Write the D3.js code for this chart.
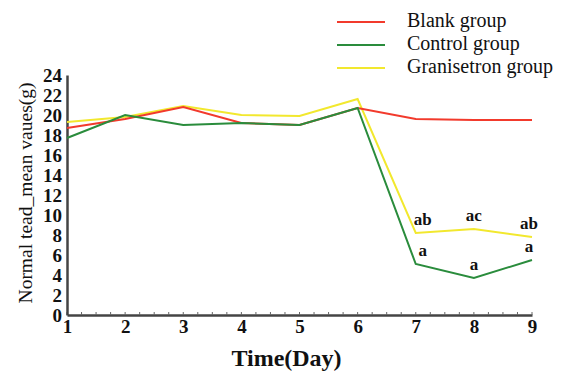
<!DOCTYPE html>
<html>
<head>
<meta charset="utf-8">
<script src="https://cdn.jsdelivr.net/npm/d3@7"></script>
<style>
  body { margin: 0; background: #fff; }
  svg text { font-family: "Liberation Serif", "DejaVu Serif", serif; fill: #111; }
</style>
</head>
<body>
<div id="chart"></div>
<script>
// Data
const days = [1, 2, 3, 4, 5, 6, 7, 8, 9];
const blank = [18.7, 19.6, 20.8, 19.2, 19.0, 20.7, 19.6, 19.5, 19.5];
const control = [17.7, 20.0, 19.0, 19.2, 19.0, 20.7, 5.1, 3.7, 5.5];
const granisetron = [19.3, 19.8, 20.9, 20.0, 19.9, 21.6, 8.2, 8.6, 7.8];
const yTicks = [0, 2, 4, 6, 8, 10, 12, 14, 16, 18, 20, 22, 24];
const seriesNames = ["Blank group", "Control group", "Granisetron group"];
const colors = ["#f23a2c", "#2a8c3c", "#f2e82e"];
// significance letters: [day, series index, label]
const marks = [
    [7, 2, "ab"], [8, 2, "ac"], [9, 2, "ab"],
    [7, 1, "a"], [8, 1, "a"], [9, 1, "a"]
];

const W = 566, H = 375;
const margin = { top: 75, right: 34, bottom: 60, left: 67 };
const width = W - margin.left - margin.right;
const height = H - margin.top - margin.bottom;

const svg = d3.select("#chart").append("svg")
    .attr("width", W).attr("height", H)
    .append("g")
    .attr("transform", `translate(${margin.left},${margin.top})`);

const x = d3.scaleLinear().domain([1, 9]).range([0, width]);
const y = d3.scaleLinear().domain([0, 24]).range([height, 0]);

// Axes
const xAxis = svg.append("g").attr("transform", `translate(0,${height})`)
    .call(d3.axisBottom(x).tickValues(days).tickFormat(d3.format("d")).tickSize(0).tickPadding(5));
xAxis.select(".domain").attr("stroke", "#444").attr("stroke-width", 2.5);
xAxis.selectAll(".tick text").style("font-size", "19px").style("font-weight", "bold");

// minor ticks on x axis (quarter days)
svg.append("g").selectAll("line")
    .data(d3.range(1, 9.01, 0.25))
    .enter().append("line")
    .attr("x1", d => x(d)).attr("x2", d => x(d))
    .attr("y1", height).attr("y2", height - 3)
    .attr("stroke", "#666").attr("stroke-width", 1);

const yAxis = svg.append("g")
    .call(d3.axisLeft(y).tickValues(yTicks).tickSize(0).tickPadding(5));
yAxis.select(".domain").attr("stroke", "#444").attr("stroke-width", 2.5);
yAxis.selectAll(".tick text").style("font-size", "19px").style("font-weight", "bold");

// Axis titles
svg.append("text")
    .attr("x", width / 2 - 13).attr("y", height + 51)
    .attr("text-anchor", "middle")
    .style("font-size", "24px").style("font-weight", "bold")
    .text("Time(Day)");

svg.append("text")
    .attr("transform", "rotate(-90)")
    .attr("x", -height / 2 + 2).attr("y", -35)
    .attr("text-anchor", "middle")
    .style("font-size", "19.5px")
    .text("Normal tead_mean vaues(g)");

// Lines
const allSeries = [blank, control, granisetron];
const line = d3.line().x((d, i) => x(days[i])).y(d => y(d));

[2, 0, 1].forEach(k => {
    svg.append("path")
        .datum(allSeries[k])
        .attr("fill", "none")
        .attr("stroke", colors[k])
        .attr("stroke-width", 2)
        .attr("d", line);
});

// Significance letters
svg.selectAll(".sig").data(marks).enter().append("text")
    .attr("class", "sig")
    .attr("x", d => x(d[0]) + (d[0] === 7 ? 7 : d[0] === 9 ? -3 : 0))
    .attr("y", d => y(allSeries[d[1]][days.indexOf(d[0])]) - 8)
    .attr("text-anchor", "middle")
    .style("font-size", "17px").style("font-weight", "bold")
    .text(d => d[2]);

// Legend
const legend = d3.select("#chart svg").append("g");
seriesNames.forEach((name, i) => {
    const row = legend.append("g").attr("transform", `translate(337, ${22 + i * 23})`);
    row.append("line").attr("x1", 0).attr("x2", 48).attr("y1", 0).attr("y2", 0)
        .attr("stroke", colors[i]).attr("stroke-width", 2);
    row.append("text").attr("x", 70).attr("y", 5)
        .style("font-size", "20px").text(name);
});
</script>
</body>
</html>
